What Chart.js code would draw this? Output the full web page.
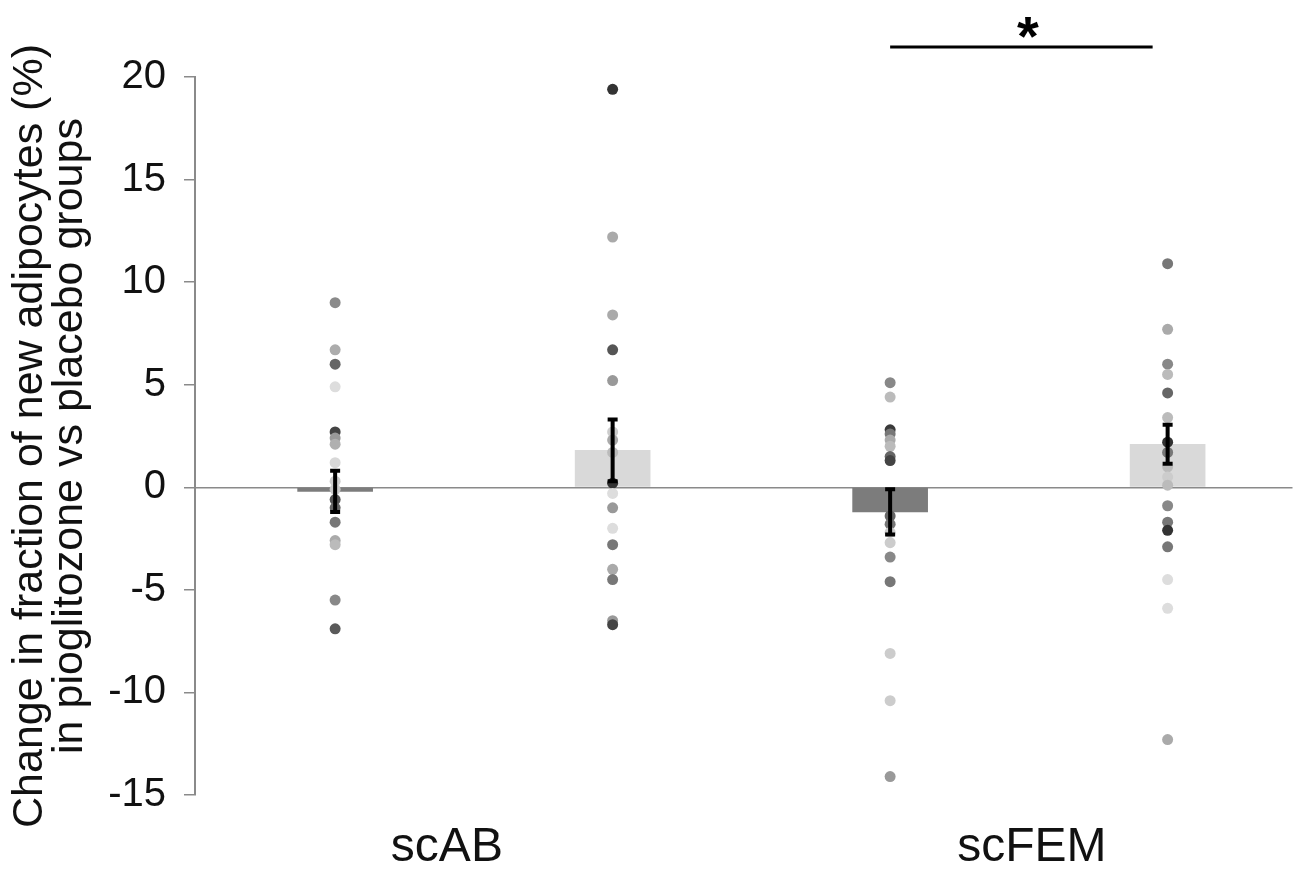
<!DOCTYPE html>
<html>
<head>
<meta charset="utf-8">
<script src="https://cdn.jsdelivr.net/npm/chart.js@4.4.1/dist/chart.umd.min.js"></script>
<style>
  body { margin: 0; background: #fff; }
  #wrap { width: 1298px; height: 869px; }
</style>
</head>
<body>
<div id="wrap"><canvas id="myChart"></canvas></div>
<script>
// groups on the x axis, each has a pioglitazone-vs-placebo pair of bars
const groups = ['scAB', 'scFEM'];
const barMeans = [-0.2, 1.8, -1.2, 2.1];
const barErrors = [1.0, 1.5, 1.1, 0.95];
const barColors = ['#7c7c7c', '#d9d9d9', '#7c7c7c', '#d9d9d9'];
const yTicks = [-15, -10, -5, 0, 5, 10, 15, 20];

// individual values per bar
const scabDark = [9.0, 6.7, 6.0, 4.9, 2.7, 2.4, 2.1, 1.2, 0.3, -0.1, -0.6, -1.0, -1.7, -2.6, -2.8, -5.5, -6.9];
const scabDarkCol = ['#8a8a8a', '#acacac', '#666', '#ddd', '#444', '#999', '#b0b0b0', '#d8d8d8', '#ccc', '#c8c8c8', '#555', '#666', '#777', '#aaa', '#bbb', '#888', '#5a5a5a'];
const scabLight = [19.4, 12.2, 8.4, 6.7, 5.2, 2.7, 2.3, 1.7, 0.2, -0.3, -1.0, -2.0, -2.8, -4.0, -4.5, -6.5, -6.7];
const scabLightCol = ['#333', '#aaa', '#aaa', '#555', '#999', '#ccc', '#aaa', '#bbb', '#333', '#ddd', '#999', '#ddd', '#777', '#aaa', '#777', '#999', '#444'];
const scfemDark = [5.1, 4.4, 2.8, 2.6, 2.3, 2.0, 1.5, 1.3, -1.4, -1.8, -2.2, -2.7, -3.4, -4.6, -8.1, -10.4, -14.1];
const scfemDarkCol = ['#888', '#bbb', '#3a3a3a', '#777', '#aaa', '#bbb', '#666', '#444', '#666', '#777', '#ccc', '#ccc', '#888', '#777', '#ccc', '#ccc', '#999'];
const scfemLight = [10.9, 7.7, 6.0, 5.5, 4.6, 3.4, 2.2, 1.7, 1.0, 0.5, 0.1, -0.9, -1.7, -2.1, -2.9, -4.5, -5.9, -12.3];
const scfemLightCol = ['#777', '#aaa', '#888', '#bbb', '#666', '#bbb', '#333', '#777', '#bbb', '#ccc', '#bbb', '#888', '#777', '#333', '#777', '#ddd', '#ddd', '#aaa'];

const pointSets = [
  [scabDark, scabDarkCol],
  [scabLight, scabLightCol],
  [scfemDark, scfemDarkCol],
  [scfemLight, scfemLightCol]
];

const FONT = 'Liberation Sans, Arial, sans-serif';

const dotDatasets = pointSets.map(function (p, i) {
  return {
    type: 'scatter',
    data: p[0].map(v => ({ x: i, y: v })),
    pointBackgroundColor: p[1],
    pointBorderWidth: 0,
    pointRadius: 5.5,
    pointHoverRadius: 5.5,
    order: 1
  };
});

// error bars, significance bar and group labels
const extras = {
  id: 'extras',
  afterDatasetsDraw(chart) {
    const ctx = chart.ctx;
    const xs = chart.scales.x, ys = chart.scales.y;
    const area = chart.chartArea;
    ctx.save();
    ctx.strokeStyle = '#000';
    ctx.lineWidth = 4;
    barMeans.forEach(function (m, i) {
      const x = xs.getPixelForValue(i);
      const y1 = ys.getPixelForValue(m + barErrors[i]);
      const y2 = ys.getPixelForValue(m - barErrors[i]);
      ctx.beginPath();
      ctx.moveTo(x, y1); ctx.lineTo(x, y2);
      ctx.moveTo(x - 5, y1); ctx.lineTo(x + 5, y1);
      ctx.moveTo(x - 5, y2); ctx.lineTo(x + 5, y2);
      ctx.stroke();
    });

    // significance line between the scFEM bars
    const sy = area.top - 30;
    ctx.lineWidth = 3;
    ctx.beginPath();
    ctx.moveTo(xs.getPixelForValue(2), sy);
    ctx.lineTo(xs.getPixelForValue(3) - 15, sy);
    ctx.stroke();
    ctx.fillStyle = '#000';
    ctx.font = 'bold 56px ' + FONT;
    ctx.textAlign = 'center';
    ctx.textBaseline = 'alphabetic';
    ctx.fillText('*', (xs.getPixelForValue(2) + xs.getPixelForValue(3)) / 2 - 1, sy + 8);

    // group labels under the axis
    ctx.fillStyle = '#111';
    ctx.font = '48px ' + FONT;
    const shift = [-27, 3];
    groups.forEach(function (g, i) {
      const x = xs.getPixelForValue(i * 2 + 0.5) + shift[i];
      ctx.fillText(g, x, area.bottom + 66);
    });
    ctx.restore();
  }
};

const ctx = document.getElementById('myChart');
const myChart = new Chart(ctx, {
  type: 'bar',
  data: {
    datasets: [
      {
        type: 'bar',
        data: barMeans.map((v, i) => ({ x: i, y: v })),
        backgroundColor: barColors,
        barThickness: 75,
        grouped: false,
        order: 2
      }
    ].concat(dotDatasets)
  },
  options: {
    responsive: true,
    maintainAspectRatio: false,
    animation: false,
    layout: { padding: { top: 77, bottom: 74, left: 0, right: 0 } },
    plugins: { legend: { display: false }, tooltip: { enabled: false } },
    scales: {
      x: {
        type: 'linear',
        display: false,
        offset: false,
        min: -0.505,
        max: 3.45
      },
      y: {
        min: -15,
        max: 20,
        afterBuildTicks: function (s) { s.ticks = yTicks.map(v => ({ value: v })); },
        afterFit: function (s) { s.width = 195; },
        border: { display: true, color: '#8a8a8a', width: 2 },
        grid: {
          drawOnChartArea: true,
          color: c => (c.tick && c.tick.value === 0 ? '#8a8a8a' : 'rgba(0,0,0,0)'),
          lineWidth: 1.5,
          tickColor: '#8a8a8a',
          tickLength: 11
        },
        ticks: {
          color: '#111',
          padding: 18,
          font: { family: FONT, size: 40 }
        },
        title: {
          display: true,
          text: ['Change in fraction of new adipocytes (%)', 'in pioglitozone vs placebo groups'],
          color: '#111',
          font: { family: FONT, size: 43, lineHeight: 0.93 },
          padding: { top: 10, bottom: 0 }
        }
      }
    }
  },
  plugins: [extras]
});
</script>
</body>
</html>
